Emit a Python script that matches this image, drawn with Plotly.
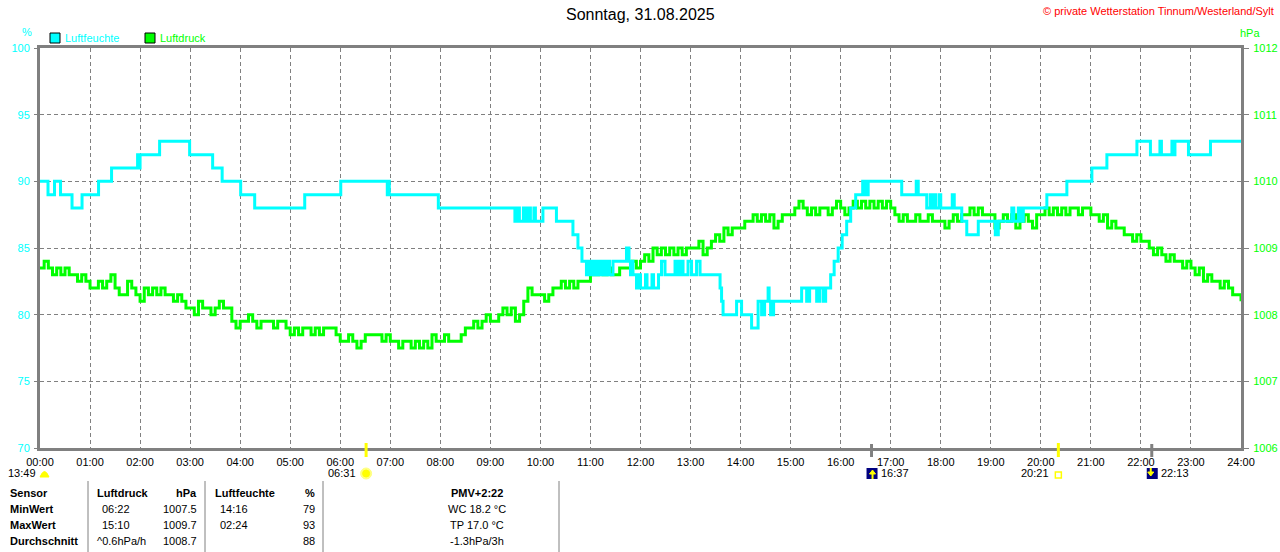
import plotly.graph_objects as go

# ---------------- data ----------------
hour_labels = ["00:00", "01:00", "02:00", "03:00", "04:00", "05:00", "06:00", "07:00",
               "08:00", "09:00", "10:00", "11:00", "12:00", "13:00", "14:00", "15:00",
               "16:00", "17:00", "18:00", "19:00", "20:00", "21:00", "22:00", "23:00", "24:00"]

# humidity (%) step changes: time in hours -> value
hum_time = [0.00, 0.16, 0.29, 0.41, 0.64, 0.84, 1.17, 1.43, 1.95, 1.97, 2.00, 2.39, 2.99, 3.45,
            3.64, 4.01, 4.29, 5.29, 6.01, 6.94, 6.96, 6.98, 7.96,
            9.49, 9.54, 9.58, 9.66, 9.70, 9.76, 9.80, 9.87, 9.90, 10.05, 10.32, 10.65, 10.75, 10.83,
            10.92, 10.97, 11.03, 11.08, 11.14, 11.20, 11.26, 11.32, 11.38, 11.45, 11.72, 11.77,
            11.80, 11.82, 11.85, 11.92, 11.97, 12.00, 12.10, 12.13, 12.23, 12.26, 12.36,
            12.42, 12.49, 12.69, 12.75, 12.79, 12.85, 12.95, 13.02, 13.12, 13.19,
            13.59, 13.62, 13.65, 13.92, 14.02, 14.22, 14.35, 14.42, 14.48, 14.55, 14.57, 14.60, 14.66,
            15.22, 15.32, 15.38, 15.52, 15.58, 15.65, 15.70, 15.80, 15.87, 15.95, 16.03, 16.12,
            16.20, 16.30, 16.44, 16.49, 16.55, 17.22, 17.51, 17.55, 17.72, 17.79, 17.82, 17.88,
            17.90, 17.97, 18.00, 18.23, 18.27, 18.42, 18.52, 18.75, 19.09, 19.15, 19.42, 19.46,
            19.55, 19.60, 19.65, 20.12, 20.52, 21.02, 21.32, 21.92, 22.19, 22.38, 22.41, 22.62,
            22.66, 22.68, 22.95, 23.39, 24.00]
hum_value = [90, 89, 90, 89, 88, 89, 90, 91, 92, 91, 92, 93, 92, 91,
             90, 89, 88, 89, 90, 89, 90, 89, 88,
             87, 88, 87, 88, 87, 88, 87, 88, 87, 88, 87, 86, 85, 84,
             83, 84, 83, 84, 83, 84, 83, 84, 83, 84, 85, 84,
             83, 84, 83, 82, 83, 82, 83, 82, 83, 82, 83,
             84, 83, 84, 83, 84, 83, 84, 83, 84, 83,
             82, 81, 80, 81, 80, 79, 81, 80, 81, 82, 81, 80, 81,
             82, 81, 82, 81, 82, 81, 82, 83, 84, 85, 86, 87,
             88, 89, 90, 89, 90, 89, 90, 89, 88, 89, 88, 89,
             88, 89, 88, 89, 88, 87, 86, 87, 86, 87, 88, 87,
             88, 87, 88, 89, 90, 91, 92, 93, 92, 93, 92, 93,
             92, 93, 92, 93, 93]

# air pressure (hPa), one reading every 5 minutes, 00:00 .. 24:00
pressure = [
    1008.7, 1008.8, 1008.7, 1008.6, 1008.7, 1008.6, 1008.7, 1008.6, 1008.6, 1008.5, 1008.6, 1008.5,
    1008.4, 1008.4, 1008.5, 1008.4, 1008.5, 1008.6, 1008.4, 1008.3, 1008.3, 1008.5, 1008.4, 1008.3,
    1008.2, 1008.4, 1008.3, 1008.4, 1008.3, 1008.4, 1008.3, 1008.3, 1008.2, 1008.3, 1008.2, 1008.1,
    1008.1, 1008.0, 1008.2, 1008.1, 1008.1, 1008.0, 1008.1, 1008.2, 1008.1, 1008.1, 1007.9, 1007.8,
    1007.9, 1007.9, 1008.0, 1007.9, 1007.8, 1007.9, 1007.9, 1007.9, 1007.8, 1007.9, 1007.9, 1007.8,
    1007.7, 1007.8, 1007.7, 1007.8, 1007.8, 1007.7, 1007.8, 1007.7, 1007.8, 1007.8, 1007.8, 1007.7,
    1007.6, 1007.6, 1007.7, 1007.6, 1007.5, 1007.6, 1007.7, 1007.7, 1007.7, 1007.7, 1007.6, 1007.7,
    1007.6, 1007.6, 1007.5, 1007.6, 1007.6, 1007.5, 1007.6, 1007.5, 1007.6, 1007.5, 1007.7, 1007.6,
    1007.6, 1007.7, 1007.6, 1007.6, 1007.6, 1007.7, 1007.8, 1007.8, 1007.9, 1007.8, 1007.9, 1008.0,
    1007.9, 1007.9, 1008.0, 1008.1, 1008.0, 1008.1, 1007.9, 1008.0, 1008.2, 1008.4, 1008.3, 1008.3,
    1008.3, 1008.2, 1008.3, 1008.4, 1008.4, 1008.5, 1008.4, 1008.5, 1008.4, 1008.5, 1008.5, 1008.5,
    1008.6, 1008.6, 1008.7, 1008.6, 1008.7, 1008.6, 1008.6, 1008.7, 1008.7, 1008.7, 1008.8, 1008.7,
    1008.8, 1008.9, 1008.8, 1009.0, 1008.9, 1009.0, 1008.9, 1009.0, 1008.9, 1009.0, 1008.9, 1009.0,
    1009.0, 1009.0, 1009.1, 1008.9, 1009.0, 1009.1, 1009.2, 1009.1, 1009.3, 1009.2, 1009.3, 1009.3,
    1009.3, 1009.4, 1009.4, 1009.5, 1009.4, 1009.5, 1009.4, 1009.5, 1009.3, 1009.4, 1009.5, 1009.5,
    1009.5, 1009.6, 1009.7, 1009.6, 1009.5, 1009.6, 1009.5, 1009.6, 1009.6, 1009.5, 1009.6, 1009.7,
    1009.6, 1009.5, 1009.6, 1009.7, 1009.6, 1009.7, 1009.6, 1009.7, 1009.6, 1009.7, 1009.6, 1009.7,
    1009.6, 1009.5, 1009.4, 1009.5, 1009.4, 1009.4, 1009.5, 1009.4, 1009.4, 1009.5, 1009.4, 1009.4,
    1009.4, 1009.3, 1009.4, 1009.5, 1009.4, 1009.5, 1009.5, 1009.6, 1009.5, 1009.6, 1009.5, 1009.5,
    1009.5, 1009.3, 1009.4, 1009.5, 1009.4, 1009.5, 1009.3, 1009.4, 1009.5, 1009.4, 1009.3, 1009.5,
    1009.5, 1009.6, 1009.5, 1009.6, 1009.5, 1009.6, 1009.5, 1009.6, 1009.6, 1009.5, 1009.6, 1009.6,
    1009.5, 1009.5, 1009.4, 1009.5, 1009.3, 1009.4, 1009.3, 1009.3, 1009.2, 1009.2, 1009.1, 1009.2,
    1009.1, 1009.1, 1009.0, 1008.9, 1009.0, 1008.9, 1008.8, 1008.9, 1008.8, 1008.8, 1008.7, 1008.8,
    1008.7, 1008.6, 1008.7, 1008.5, 1008.6, 1008.5, 1008.5, 1008.4, 1008.5, 1008.4, 1008.3, 1008.3,
    1008.2]
pressure_time = [i / 12 for i in range(len(pressure))]

# sun / moon events
left_event = "13:49"
sun_events = ["06:31", "20:21"]      # sunrise, sunset
moon_events = ["16:37", "22:13"]     # moonrise, moonset

title_text = "Sonntag, 31.08.2025"
copyright_text = "© private Wetterstation Tinnum/Westerland/Sylt"

table_rows = ["Sensor", "MinWert", "MaxWert", "Durchschnitt"]
druck_time = ["06:22", "15:10", "^0.6hPa/h"]
druck_val = ["1007.5", "1009.7", "1008.7"]
feuchte_time = ["14:16", "02:24", ""]
feuchte_val = ["79", "93", "88"]
extra_lines = ["PMV+2:22", "WC 18.2 °C", "TP 17.0 °C", "-1.3hPa/3h"]

# ---------------- figure ----------------
CYAN = "#00FFFF"
GREEN = "#00FF00"
GRAY = "#808080"
FONT = "Liberation Sans, Arial, sans-serif"

L, R, T, B = 40, 39, 48, 104
W, H = 1280, 552
PW, PH = W - L - R, H - T - B


def px(x):
    return (x - L) / PW


def py(y):
    return (H - B - y) / PH


def hrs(s):
    h, m = s.split(":")
    return int(h) + int(m) / 60


fig = go.Figure()
fig.add_trace(go.Scatter(x=pressure_time, y=pressure, mode="lines", line=dict(color=GREEN, width=3, shape="hv"),
                         yaxis="y", hoverinfo="skip", name="Luftdruck"))
fig.add_trace(go.Scatter(x=hum_time, y=hum_value, mode="lines", line=dict(color=CYAN, width=3, shape="hv"),
                         yaxis="y2", hoverinfo="skip", name="Luftfeuchte"))

annotations = []
shapes = []


def ann(text, x, y, xanchor="left", color="black", size=11, bold=False):
    annotations.append(dict(text=("<b>%s</b>" % text) if bold else text, x=px(x),
                            y=py(y), xref="paper", yref="paper", xanchor=xanchor, yanchor="middle",
                            showarrow=False, font=dict(family=FONT, size=size, color=color)))


def event_label(text, t, shift, anchor):
    annotations.append(dict(text=text, x=t, xshift=shift, y=py(473), xref="x", yref="paper", xanchor=anchor,
                            yanchor="middle", showarrow=False, font=dict(family=FONT, size=11, color="black")))


# title and copyright
ann(title_text, 640, 15, xanchor="center", size=16)
ann(copyright_text, 1276, 11, xanchor="right", color="#FF0000", size=11)
# units
ann("%", 27, 32, xanchor="center", color=CYAN)
ann("hPa", 1250, 33, xanchor="center", color=GREEN)
# legend
for bx, col, lab in [(50, CYAN, "Luftfeuchte"), (145, GREEN, "Luftdruck")]:
    shapes.append(dict(type="rect", xref="paper", yref="paper", x0=px(bx), x1=px(bx + 10), y0=py(43), y1=py(33),
                       fillcolor=col, line=dict(color="black", width=1)))
    ann(lab, bx + 13, 38, color=col)

# sun/moon row
ann(left_event, 38, 473, xanchor="right")
shapes.append(dict(type="path", xref="paper", yref="paper",
                   path="M %f %f Q %f %f %f %f Z" % (px(40), py(477), px(44.5), py(466), px(49), py(477)),
                   fillcolor="#FFFF00", line=dict(color="#FFFF00", width=1)))
for s in sun_events:
    t = hrs(s)
    shapes.append(dict(type="line", xref="x", yref="paper", x0=t, x1=t, y0=py(443), y1=py(457),
                       line=dict(color="#FFFF00", width=3)))
for s in moon_events:
    t = hrs(s)
    shapes.append(dict(type="line", xref="x", yref="paper", x0=t, x1=t, y0=py(444), y1=py(457),
                       line=dict(color=GRAY, width=3)))

# sunrise icon
t = hrs(sun_events[0])
shapes.append(dict(type="circle", xref="x", yref="paper", x0=t - 5.5 / 50, x1=t + 5.5 / 50, y0=py(479), y1=py(468),
                   fillcolor="#FFFF80", line=dict(color="#FFFF80", width=1)))
shapes.append(dict(type="circle", xref="x", yref="paper", x0=t - 3.5 / 50, x1=t + 3.5 / 50, y0=py(477), y1=py(470),
                   fillcolor="#FFFF00", line=dict(color="#FFFF00", width=1)))
event_label(sun_events[0], t, -8, "right")
# sunset icon
t = hrs(sun_events[1])
shapes.append(dict(type="rect", xref="x", yref="paper", x0=t - 3 / 50, x1=t + 3 / 50, y0=py(478), y1=py(472),
                   fillcolor="white", line=dict(color="#FFFF00", width=1.5)))
event_label(sun_events[1], t, -7, "right")
# moon icons
for i, s in enumerate(moon_events):
    t = hrs(s)
    shapes.append(dict(type="rect", xref="x", yref="paper", x0=t - 5 / 50, x1=t + 6 / 50, y0=py(479), y1=py(468),
                       fillcolor="#000080", line=dict(width=0)))
    if i == 0:
        shapes.append(dict(type="path", xref="x", yref="paper",
                           path="M %f %f L %f %f L %f %f Z" % (t - 2 / 50, py(474), t + 4 / 50, py(474), t + 1 / 50, py(470)),
                           fillcolor="#FFFF00", line=dict(color="#FFFF00", width=1)))
        shapes.append(dict(type="line", xref="x", yref="paper", x0=t + 1 / 50, x1=t + 1 / 50, y0=py(479), y1=py(473),
                           line=dict(color="#FFFF00", width=2)))
    else:
        shapes.append(dict(type="path", xref="x", yref="paper",
                           path="M %f %f L %f %f L %f %f Z" % (t - 4 / 50, py(472), t + 2 / 50, py(472), t - 1 / 50, py(476)),
                           fillcolor="#FFFF00", line=dict(color="#FFFF00", width=1)))
        shapes.append(dict(type="line", xref="x", yref="paper", x0=t - 1 / 50, x1=t - 1 / 50, y0=py(468), y1=py(473),
                           line=dict(color="#FFFF00", width=2)))
    event_label(s, t, 7, "left")

# table
for xl in [88, 205, 323, 559]:
    shapes.append(dict(type="line", xref="paper", yref="paper", x0=px(xl), x1=px(xl), y0=py(481), y1=py(552),
                       line=dict(color=GRAY, width=1)))
row_y = [493, 509, 525, 541]
for i, lab in enumerate(table_rows):
    ann(lab, 8, row_y[i], bold=True)
ann("Luftdruck", 95, row_y[0], bold=True)
ann("hPa", 199, row_y[0], xanchor="right", bold=True)
ann("Luftfeuchte", 213, row_y[0], bold=True)
ann("%", 317, row_y[0], xanchor="right", bold=True)
for i in range(3):
    ann(druck_time[i], 95 if druck_time[i].startswith("^") else 100, row_y[i + 1])
    ann(druck_val[i], 199, row_y[i + 1], xanchor="right")
    if feuchte_time[i]:
        ann(feuchte_time[i], 218, row_y[i + 1])
    ann(feuchte_val[i], 317, row_y[i + 1], xanchor="right")
for i, txt in enumerate(extra_lines):
    ann(txt, 477, row_y[i], xanchor="center", bold=(i == 0))

fig.update_layout(
    width=W, height=H, margin=dict(l=L, r=R, t=T, b=B, pad=0, autoexpand=False),
    paper_bgcolor="white", plot_bgcolor="white", showlegend=False,
    font=dict(family=FONT, size=11, color="black"),
    xaxis=dict(range=[0, 24], tickvals=list(range(25)), ticktext=hour_labels, showgrid=True, automargin=False,
               gridcolor=GRAY, gridwidth=1, griddash="4px,3px", showline=True, linecolor=GRAY, linewidth=3,
               mirror=True, ticks="", zeroline=False, tickfont=dict(size=11, color="black"),
               ticklabelstandoff=2, fixedrange=True),
    yaxis=dict(range=[1006, 1012], dtick=1, side="right", showgrid=True, gridcolor=GRAY, gridwidth=1,
               griddash="4px,3px", showline=True, linecolor=GRAY, linewidth=3, mirror=True, automargin=False,
               ticks="outside", ticklen=5, tickcolor=GRAY, tickwidth=1, zeroline=False,
               tickfont=dict(size=11, color=GREEN), ticklabelstandoff=2),
    yaxis2=dict(range=[70, 100], dtick=5, side="left", overlaying="y", showgrid=False, showline=False,
                ticks="outside", ticklen=5, tickcolor=GRAY, tickwidth=1, zeroline=False, automargin=False,
                tickfont=dict(size=11, color=CYAN), ticklabelstandoff=2),
    annotations=annotations, shapes=shapes,
)

fig.write_html("out.html", config={"displayModeBar": False},
               post_script="document.body.style.margin='0';document.body.style.overflow='hidden';")
